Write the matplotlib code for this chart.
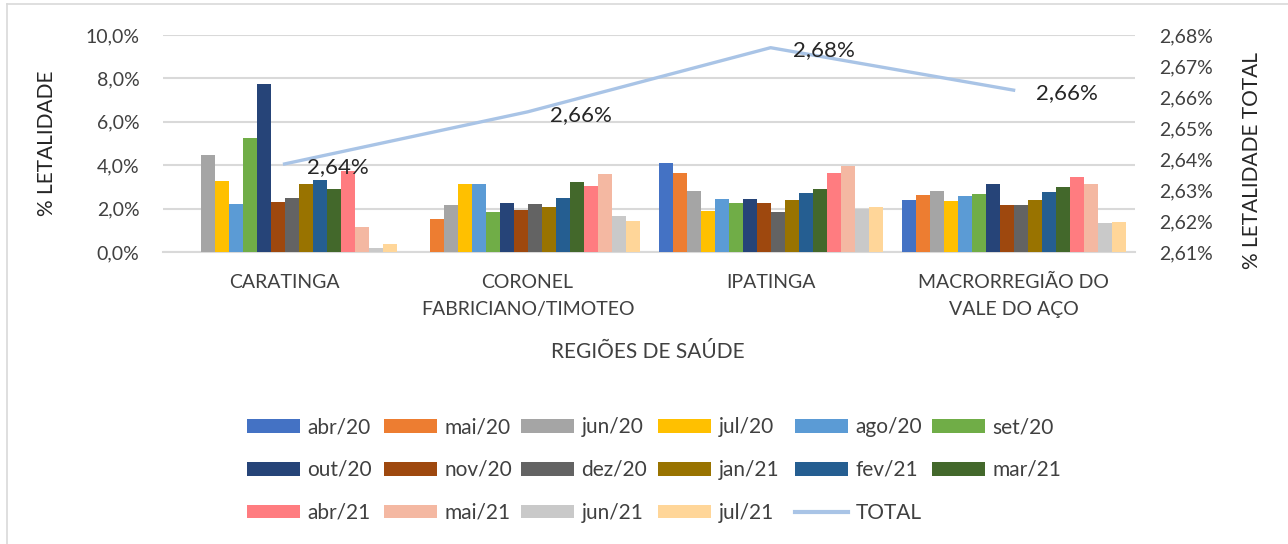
import matplotlib
matplotlib.use('Agg')
from matplotlib import pyplot as plt
from matplotlib.patches import Patch
from matplotlib.lines import Line2D
import numpy as np

plt.rcParams['font.family'] = ['Lato', 'DejaVu Sans']

# dados
regioes = ["CARATINGA", "CORONEL\nFABRICIANO/TIMOTEO", "IPATINGA", "MACRORREGIÃO DO\nVALE DO AÇO"]
meses = ["abr/20", "mai/20", "jun/20", "jul/20", "ago/20", "set/20", "out/20", "nov/20",
         "dez/20", "jan/21", "fev/21", "mar/21", "abr/21", "mai/21", "jun/21", "jul/21"]
caratinga = [0.0, 0.0, 4.45, 3.28, 2.22, 5.23, 7.72, 2.32, 2.51, 3.11, 3.34, 2.92, 3.75, 1.15, 0.18, 0.38]
coronel = [0.0, 1.51, 2.15, 3.15, 3.15, 1.86, 2.28, 1.94, 2.22, 2.09, 2.51, 3.23, 3.05, 3.58, 1.68, 1.45]
ipatinga = [4.11, 3.65, 2.82, 1.88, 2.45, 2.28, 2.45, 2.28, 1.85, 2.38, 2.74, 2.92, 3.65, 3.98, 1.98, 2.09]
macro = [2.40, 2.63, 2.82, 2.34, 2.57, 2.69, 3.11, 2.15, 2.15, 2.40, 2.75, 2.98, 3.46, 3.11, 1.32, 1.38]
total = [2.6384, 2.6552, 2.6759, 2.6622]

cores = ["#4472C4", "#ED7D31", "#A5A5A5", "#FFC000", "#5B9BD5", "#70AD47", "#264478", "#9E480E",
         "#636363", "#997300", "#255E91", "#43682B", "#FF7C80", "#F4B8A2", "#C9C9C9", "#FFD699"]
cor_total = "#A9C4E6"

valores = np.array([caratinga, coronel, ipatinga, macro])  # regiao x mes

fig = plt.figure(figsize=(12.88, 5.44), dpi=100)
ax = fig.add_axes([0.1266, 0.5368, 0.7547, 0.3989])
ax2 = ax.twinx()

x = np.arange(len(regioes))
w = 0.0576
for k, mes in enumerate(meses):
    ax.bar(x + (k - 7.5) * w, valores[:, k], w, color=cores[k], zorder=3)

ax.set_xlim(-0.5, 3.5)
ax.set_ylim(0, 10)
ax.set_yticks(np.arange(0, 10.1, 2))
ax.set_yticklabels([f"{v:.1f}%".replace(".", ",") for v in np.arange(0, 10.1, 2)])
ax.grid(axis='y', color='#D9D9D9', lw=1.5, zorder=0)
ax.set_axisbelow(True)
for s in ax.spines.values():
    s.set_visible(False)
for s in ax2.spines.values():
    s.set_visible(False)
ax.spines['bottom'].set_visible(True)
ax.spines['bottom'].set_color('#D9D9D9')
ax.spines['bottom'].set_linewidth(1.5)

ax.set_xticks(x)
ax.set_xticklabels(regioes, linespacing=1.7)
ax.tick_params(axis='x', length=0, pad=16, labelsize=14, labelcolor='#404040')
ax.tick_params(axis='y', length=0, pad=17, labelsize=14, labelcolor='#404040')

ax2.plot(x, total, color=cor_total, lw=2.4, zorder=4)
ax2.set_ylim(2.61, 2.68)
rt = np.arange(2.61, 2.6801, 0.01)
ax2.set_yticks(rt)
ax2.set_yticklabels([f"{v:.2f}%".replace(".", ",") for v in rt])
ax2.tick_params(axis='y', length=0, pad=17, labelsize=14, labelcolor='#404040')
for xi, v in zip(x, total):
    ax2.annotate(f"{v:.2f}%".replace(".", ","), (xi, v), xytext=(16, -2), textcoords='offset points',
                 va='center', ha='left', fontsize=16, color='#262626', zorder=5)

ax.set_ylabel("% LETALIDADE", fontsize=15, color='#262626')
ax.yaxis.set_label_coords(-0.109, 0.5)
ax2.set_ylabel("% LETALIDADE TOTAL", fontsize=15, color='#262626')
ax2.yaxis.set_label_coords(1.1097, 0.42)

fig.text(648 / 1288, 1 - 352 / 544, "REGIÕES DE SAÚDE", ha='center', va='center',
         fontsize=15, color='#404040')

# legenda em 6 colunas de largura fixa
handles = [Patch(facecolor=c, label=m) for c, m in zip(cores, meses)]
handles.append(Line2D([0], [0], color=cor_total, lw=3, label="TOTAL"))
col_x = [247, 384, 521, 658, 795, 932]
for j in range(6):
    col = handles[j::6]
    leg = fig.legend(handles=col, loc='upper left', bbox_to_anchor=(col_x[j] / 1288, 1 - 417 / 544),
                     frameon=False, fontsize=15, handlelength=2.55, handleheight=0.65,
                     handletextpad=0.35, labelspacing=1.1, borderpad=0, borderaxespad=0,
                     labelcolor='#404040')

fig.add_artist(Line2D([7 / 1288, 7 / 1288], [0, 1 - 4 / 544], color='#D9D9D9', lw=1.2))
fig.add_artist(Line2D([7 / 1288, 1], [1 - 4 / 544, 1 - 4 / 544], color='#D9D9D9', lw=1.2))

fig.savefig('out.png', dpi=100)
plt.close()
